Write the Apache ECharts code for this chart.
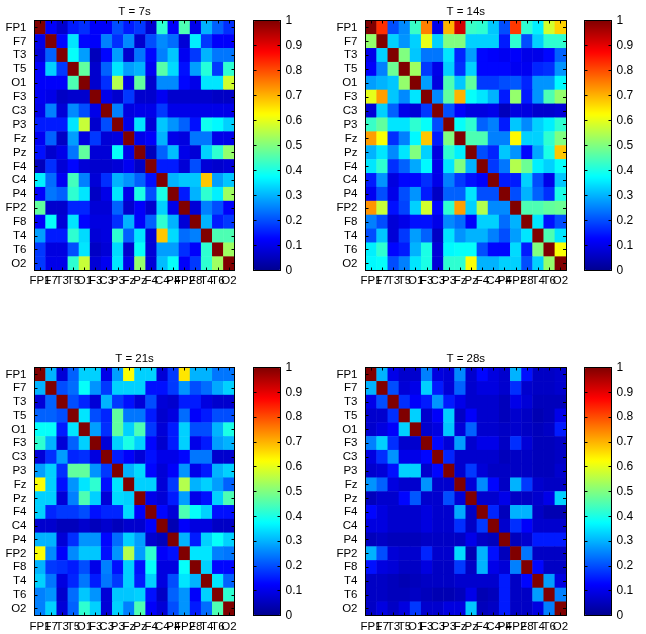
<!DOCTYPE html>
<html><head><meta charset="utf-8">
<style>html,body{margin:0;padding:0;background:#fff}#c{width:646px;height:634px}</style>
<script src="https://cdn.jsdelivr.net/npm/echarts@6/dist/echarts.min.js"></script>
</head><body><div id="c"></div>
<script>
const channels=["FP1","F7","T3","T5","O1","F3","C3","P3","Fz","Pz","F4","C4","P4","FP2","F8","T4","T6","O2"];
const titles=["T = 7s","T = 14s","T = 21s","T = 28s"];
const barTicks=[0,0.1,0.2,0.3,0.4,0.5,0.6,0.7,0.8,0.9,1];
const t7=[
[1,.12,.07,.15,.17,.12,.12,.2,.15,.18,.07,.42,.12,.45,.1,.3,.22,.17],
[.1,1,.13,.35,.13,.12,.25,.17,.26,.07,.2,.26,.23,.08,.36,.18,.12,.12],
[.08,.22,1,.38,.28,.05,.13,.28,.07,.24,.13,.25,.32,.11,.18,.3,.24,.24],
[.12,.33,.18,1,.47,.07,.22,.35,.28,.3,.11,.46,.34,.14,.28,.41,.18,.42],
[.12,.12,.12,.45,1,.07,.17,.55,.1,.47,.07,.26,.26,.13,.1,.35,.35,.58],
[.11,.1,.06,.07,.07,1,.1,.07,.18,.07,.07,.11,.07,.07,.07,.07,.06,.06],
[.1,.25,.08,.26,.2,.1,1,.25,.09,.1,.1,.18,.1,.1,.1,.1,.1,.1],
[.15,.15,.15,.35,.57,.07,.2,1,.1,.35,.08,.32,.27,.22,.14,.39,.37,.33],
[.11,.22,.06,.28,.09,.18,.08,.09,1,.1,.12,.3,.1,.09,.24,.24,.1,.1],
[.14,.07,.1,.24,.47,.08,.08,.38,.1,1,.05,.22,.31,.1,.08,.33,.42,.52],
[.05,.17,.08,.13,.08,.07,.07,.08,.11,.06,1,.15,.15,.08,.2,.08,.07,.08],
[.36,.23,.11,.44,.25,.08,.17,.3,.27,.22,.14,1,.3,.32,.32,.68,.28,.32],
[.12,.24,.22,.42,.35,.06,.1,.35,.1,.4,.2,.4,1,.15,.3,.42,.36,.53],
[.47,.07,.07,.16,.16,.08,.08,.22,.07,.12,.07,.33,.1,1,.08,.25,.2,.12],
[.12,.38,.08,.35,.13,.09,.09,.17,.3,.12,.22,.42,.3,.08,1,.3,.15,.18],
[.28,.15,.15,.42,.34,.08,.09,.42,.22,.35,.08,.68,.34,.23,.25,1,.45,.45],
[.18,.09,.09,.2,.35,.06,.08,.34,.07,.38,.08,.28,.28,.17,.12,.42,1,.53],
[.18,.1,.1,.42,.57,.08,.11,.35,.1,.52,.08,.31,.38,.12,.18,.42,.53,1]];
const t14=[
[1,.83,.2,.26,.43,.75,.1,.7,.92,.43,.42,.32,.2,.82,.42,.36,.58,.67],
[.52,1,.33,.27,.33,.6,.33,.5,.5,.33,.33,.33,.15,.42,.2,.33,.42,.42],
[.1,.33,1,.5,.32,.24,.24,.35,.16,.28,.13,.12,.11,.12,.1,.1,.13,.22],
[.12,.25,.48,1,.53,.18,.1,.33,.17,.33,.13,.13,.13,.11,.11,.16,.17,.27],
[.28,.3,.32,.52,1,.28,.09,.45,.32,.47,.18,.18,.2,.21,.16,.27,.27,.37],
[.6,.72,.32,.26,.35,1,.26,.47,.7,.38,.35,.3,.15,.52,.15,.27,.45,.52],
[.08,.33,.22,.1,.08,.18,1,.2,.12,.09,.09,.1,.05,.09,.09,.07,.07,.08],
[.43,.47,.35,.35,.42,.38,.2,1,.38,.42,.22,.25,.15,.32,.26,.33,.36,.42],
[.72,.62,.17,.25,.37,.68,.15,.5,1,.45,.45,.25,.25,.63,.33,.33,.42,.5],
[.3,.35,.26,.35,.5,.33,.09,.42,.36,1,.2,.16,.32,.27,.13,.29,.4,.68],
[.35,.42,.17,.22,.29,.37,.1,.35,.5,.3,1,.18,.24,.55,.48,.36,.33,.38],
[.15,.27,.09,.13,.13,.17,.1,.25,.18,.14,.12,1,.15,.15,.33,.2,.1,.32],
[.11,.2,.1,.2,.27,.15,.06,.22,.22,.35,.2,.2,1,.2,.3,.22,.17,.4],
[.73,.57,.14,.19,.33,.58,.13,.42,.72,.33,.55,.26,.26,1,.45,.45,.47,.48],
[.25,.2,.08,.1,.14,.14,.1,.26,.23,.12,.33,.33,.23,.3,1,.35,.14,.2],
[.2,.32,.08,.18,.28,.22,.06,.35,.27,.3,.3,.25,.2,.28,.35,1,.45,.35],
[.36,.42,.13,.15,.3,.4,.08,.37,.38,.38,.2,.13,.13,.34,.15,.5,1,.62],
[.37,.38,.2,.25,.35,.4,.08,.42,.42,.62,.3,.3,.33,.33,.2,.33,.52,1]];
const t21=[
[1,.3,.08,.22,.33,.33,.1,.28,.62,.33,.33,.08,.18,.65,.3,.3,.24,.24],
[.3,1,.2,.23,.38,.27,.18,.33,.33,.33,.14,.14,.18,.27,.2,.23,.29,.33],
[.08,.22,1,.2,.16,.08,.3,.18,.14,.08,.2,.08,.07,.15,.15,.09,.07,.07],
[.22,.22,.2,1,.35,.2,.16,.47,.24,.24,.15,.07,.09,.23,.12,.15,.2,.2],
[.38,.38,.15,.35,1,.28,.17,.47,.33,.45,.18,.08,.15,.33,.2,.2,.3,.4],
[.42,.3,.08,.22,.33,1,.08,.33,.4,.33,.13,.07,.15,.33,.1,.15,.28,.3],
[.08,.17,.28,.16,.17,.09,1,.15,.12,.08,.14,.1,.1,.13,.24,.24,.07,.07],
[.28,.33,.17,.47,.47,.27,.18,1,.3,.34,.13,.08,.12,.27,.1,.15,.3,.33],
[.62,.33,.14,.27,.35,.42,.14,.35,1,.33,.33,.08,.18,.55,.3,.33,.28,.22],
[.33,.33,.08,.25,.45,.33,.08,.34,.33,1,.1,.08,.15,.28,.1,.14,.33,.45],
[.33,.16,.18,.18,.2,.14,.16,.16,.34,.12,1,.13,.08,.45,.38,.33,.14,.14],
[.07,.07,.05,.05,.07,.05,.07,.05,.07,.07,.12,1,.04,.12,.09,.09,.06,.06],
[.3,.3,.08,.17,.27,.27,.13,.23,.33,.28,.07,.05,1,.3,.15,.33,.38,.33],
[.62,.26,.12,.26,.32,.32,.14,.27,.55,.28,.42,.12,.14,1,.35,.35,.25,.24],
[.3,.18,.17,.15,.2,.1,.25,.14,.33,.14,.38,.09,.09,.38,1,.33,.13,.13],
[.33,.24,.09,.16,.24,.15,.24,.18,.33,.15,.33,.09,.2,.35,.3,1,.35,.22],
[.25,.27,.07,.23,.32,.27,.08,.32,.32,.33,.14,.06,.22,.27,.12,.33,1,.42],
[.25,.33,.08,.22,.42,.33,.08,.33,.25,.45,.12,.08,.2,.27,.15,.23,.45,1]];
const t28=[
[1,.3,.1,.07,.07,.25,.09,.08,.26,.07,.13,.09,.07,.3,.14,.06,.06,.07],
[.3,1,.2,.08,.1,.33,.15,.08,.22,.07,.09,.09,.07,.17,.07,.06,.06,.07],
[.1,.2,1,.17,.12,.15,.27,.15,.1,.07,.07,.07,.05,.1,.08,.05,.05,.05],
[.07,.07,.17,1,.33,.07,.12,.33,.06,.12,.07,.07,.05,.07,.06,.04,.05,.1],
[.07,.09,.12,.33,1,.07,.09,.32,.08,.22,.07,.07,.06,.07,.06,.05,.06,.15],
[.25,.33,.17,.07,.07,1,.13,.08,.28,.07,.1,.1,.06,.17,.08,.05,.05,.06],
[.09,.17,.27,.1,.1,.13,1,.16,.07,.07,.07,.07,.05,.06,.06,.05,.05,.06],
[.07,.08,.14,.33,.33,.07,.13,1,.07,.18,.08,.06,.06,.06,.06,.05,.05,.07],
[.27,.22,.09,.07,.07,.27,.07,.07,1,.08,.26,.13,.06,.3,.18,.07,.06,.06],
[.05,.07,.07,.13,.21,.07,.07,.2,.08,1,.07,.07,.1,.06,.06,.07,.1,.33],
[.13,.09,.07,.07,.07,.09,.07,.07,.29,.06,1,.16,.05,.3,.3,.06,.04,.04],
[.09,.09,.07,.07,.07,.09,.07,.07,.17,.06,.18,1,.07,.17,.12,.07,.07,.07],
[.05,.06,.05,.05,.05,.06,.06,.06,.06,.1,.06,.05,1,.05,.07,.15,.15,.15],
[.3,.2,.08,.07,.07,.16,.07,.07,.34,.04,.3,.14,.05,1,.24,.06,.06,.06],
[.14,.09,.08,.06,.06,.09,.06,.06,.18,.06,.3,.1,.08,.25,1,.13,.06,.06],
[.06,.06,.05,.04,.05,.06,.06,.06,.07,.07,.07,.07,.15,.06,.13,1,.28,.09],
[.06,.06,.05,.05,.06,.05,.04,.04,.05,.1,.04,.05,.15,.06,.06,.28,1,.25],
[.06,.09,.06,.09,.18,.07,.07,.09,.09,.32,.05,.06,.15,.06,.06,.09,.25,1]];
const matrices=[t7,t14,t21,t28];
const jet=['#00008f','#0000ff','#0080ff','#00ffff','#80ff80','#ffff00','#ff8000','#ff0000','#800000'];
const FONT='"Liberation Sans",Arial,sans-serif';
const layout=[
 {l:34.5,w:200,t:20.5,h:250,bl:253.5,bw:27,xm:4},
 {l:365.5,w:200.5,t:20.5,h:250,bl:584.5,bw:27,xm:4},
 {l:34.5,w:200,t:367.5,h:248,bl:253.5,bw:27,xm:5},
 {l:365.5,w:200.5,t:367.5,h:248,bl:584.5,bw:27,xm:5}];
const option={animation:false,backgroundColor:'#fff',title:[],grid:[],xAxis:[],yAxis:[],series:[],visualMap:[]};
const line={show:true,lineStyle:{color:'#000',width:1}};
const tick={show:true,inside:true,length:3,alignWithLabel:true,lineStyle:{color:'#000',width:1}};
layout.forEach((p,k)=>{
  const g=option.grid.length;
  option.grid.push({left:p.l,top:p.t,width:p.w,height:p.h,containLabel:false,z:6});
  const xi=option.xAxis.length, yi=option.yAxis.length;
  const catX=(pos,labels)=>({type:'category',gridIndex:g,position:pos,data:channels,z:6,boundaryGap:true,axisLine:{...line,onZero:false},axisTick:{...tick,interval:0},splitLine:{show:false},
    axisLabel:{show:labels,interval:0,hideOverlap:false,color:'#000',fontFamily:FONT,fontSize:11.5,margin:p.xm}});
  const catY=(pos,labels)=>({type:'category',gridIndex:g,position:pos,inverse:true,data:channels,z:6,boundaryGap:true,axisLine:{...line,onZero:false},axisTick:{...tick,interval:0},splitLine:{show:false},
    axisLabel:{show:labels,interval:0,hideOverlap:false,color:'#000',fontFamily:FONT,fontSize:11.5,margin:8}});
  option.xAxis.push(catX('bottom',true),catX('top',false));
  option.yAxis.push(catY('left',true),catY('right',false));
  const data=[];
  matrices[k].forEach((row,i)=>row.forEach((v,j)=>data.push([j,i,v])));
  option.series.push({type:'heatmap',xAxisIndex:xi,yAxisIndex:yi,data,emphasis:{disabled:true},itemStyle:{borderWidth:0},progressive:0});
  option.title.push({text:titles[k],left:p.l+p.w/2,top:p.t-15,textAlign:'center',padding:0,textStyle:{color:'#000',fontFamily:FONT,fontSize:11.5,fontWeight:'normal'}});
  option.visualMap.push({type:'continuous',seriesIndex:k,min:0,max:1,calculable:false,realtime:false,hoverLink:false,text:null,showLabel:false,
    left:p.bl,top:p.t,itemWidth:p.bw,itemHeight:p.h,padding:0,inRange:{color:jet},textStyle:{color:'transparent',fontSize:1}});
});
layout.forEach((p)=>{
  const g=option.grid.length;
  option.grid.push({left:p.bl,top:p.t,width:p.bw,height:p.h,z:20});
  option.xAxis.push({type:'value',gridIndex:g,min:0,max:1,z:20,axisLine:{show:false},axisTick:{show:false},axisLabel:{show:false},splitLine:{show:false}},
                    {type:'value',gridIndex:g,min:0,max:1,z:20,position:'top',axisLine:{show:false},axisTick:{show:false},axisLabel:{show:false},splitLine:{show:false}});
  const val=(pos,labels)=>({type:'value',gridIndex:g,min:0,max:1,interval:0.1,position:pos,z:20,
    axisLine:{...line,onZero:false},axisTick:{show:true,inside:true,length:3,lineStyle:{color:'#000',width:1}},splitLine:{show:false},
    axisLabel:{show:labels,color:'#000',fontFamily:FONT,fontSize:12,margin:5,formatter:v=>barTicks.includes(+v.toFixed(1))?String(+v.toFixed(1)):''}});
  option.yAxis.push(val('left',false),val('right',true));
  option.grid.push({left:p.bl,top:p.t,width:p.bw,height:p.h,z:20,show:true,backgroundColor:'transparent',borderColor:'#000',borderWidth:1});
  const g2=option.grid.length-1;
  option.xAxis.push({type:'value',gridIndex:g2,min:0,max:1,show:false});
  option.yAxis.push({type:'value',gridIndex:g2,min:0,max:1,show:false});
});
const chart=echarts.init(document.getElementById('c'),null,{renderer:'canvas',width:646,height:634});
chart.setOption(option);
</script></body></html>
